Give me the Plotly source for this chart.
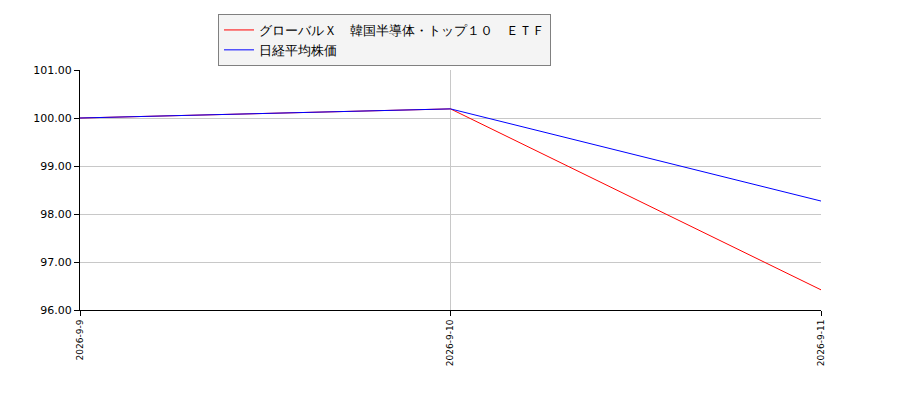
import plotly.graph_objects as go

# data
dates = ['2026-9-9', '2026-9-10', '2026-9-11']
etf_values = [100.0, 100.19, 96.42]
nikkei_values = [100.0, 100.19, 98.27]
etf_name = 'グローバルＸ　韓国半導体・トップ１０　ＥＴＦ'
nikkei_name = '日経平均株価'
y_ticks = [96, 97, 98, 99, 100, 101]

fig = go.Figure()
fig.add_trace(go.Scatter(x=dates, y=etf_values, mode='lines', name=etf_name,
                         line=dict(color='red', width=1)))
fig.add_trace(go.Scatter(x=dates, y=nikkei_values, mode='lines', name=nikkei_name,
                         line=dict(color='blue', width=1)))

# page body adds 8px offset, so margins are shifted accordingly
fig.update_layout(
    width=900, height=400,
    margin=dict(l=72, r=87, t=62, b=98, autoexpand=False),
    paper_bgcolor='white', plot_bgcolor='white',
    font=dict(family='DejaVu Sans', size=11, color='black'),
    showlegend=True,
    legend=dict(x=210 / 900, y=1 - 6 / 400, xref='container', yref='container',
                xanchor='left', yanchor='top',
                bgcolor='#f4f4f4', bordercolor='#808080', borderwidth=1,
                font=dict(size=13), tracegroupgap=0, itemwidth=30),
)

fig.update_xaxes(type='category', range=[0, 2], showgrid=True, gridcolor='#c8c8c8',
                 gridwidth=1, showline=True, linecolor='black', linewidth=1,
                 ticks='outside', ticklen=5, tickcolor='black', tickangle=-90,
                 tickfont=dict(size=9), zeroline=False)
fig.update_yaxes(range=[96, 101], tickvals=y_ticks,
                 ticktext=['%.2f' % v for v in y_ticks],
                 showgrid=True, gridcolor='#c8c8c8', gridwidth=1,
                 showline=True, linecolor='black', linewidth=1,
                 ticks='outside', ticklen=5, tickcolor='black',
                 tickfont=dict(size=11), zeroline=False)

fig.write_html("out.html")
